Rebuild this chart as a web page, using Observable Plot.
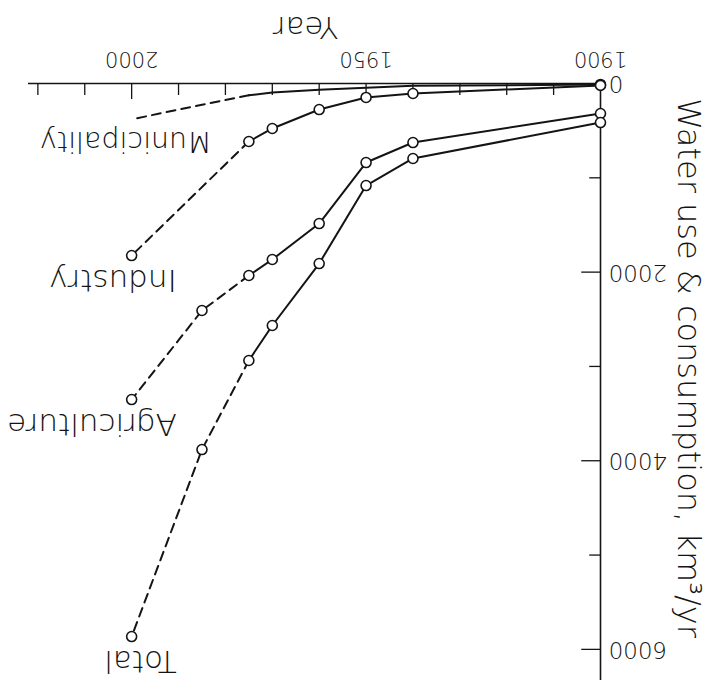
<!DOCTYPE html>
<html><head><meta charset="utf-8">
<script src="https://cdn.jsdelivr.net/npm/d3@7"></script>
<script src="https://cdn.jsdelivr.net/npm/@observablehq/plot@0.6"></script>
<style>body{margin:0;background:#fff} svg{display:block}</style>
</head><body><div id="chart"></div>
<script>
// ---- data ----
const seriesNames = ["Municipality", "Industry", "Agriculture", "Total"];
const municipalityYears = [1900, 1940, 1950, 1960, 1970, 1975, 1985, 2000];
const municipality      = [10, 25, 45, 65, 95, 125, 225, 380];
const industryYears     = [1900, 1940, 1950, 1960, 1970, 1975, 2000];
const industry          = [20, 106, 148, 276, 477, 615, 1824];
const agricultureYears  = [1900, 1940, 1950, 1960, 1970, 1975, 1985, 2000];
const agriculture       = [318, 626, 838, 1485, 1866, 2036, 2407, 3351];
const totalYears        = [1900, 1940, 1950, 1960, 1970, 1975, 1985, 2000];
const total             = [414, 795, 1082, 1909, 2566, 2937, 3881, 5864];
const projectionStart = 1975;

const xTickValues = [1910, 1920, 1930, 1940, 1950, 1960, 1970, 1980, 1990, 2000, 2010, 2020];
const xTickLabels = [1900, 1950, 2000];
const yTickValues = [1000, 2000, 3000, 4000, 5000, 6000];
const yTickLabels = [0, 2000, 4000, 6000];
const xTitle = "Year";
const yTitle = "Water use & consumption, km³/yr";

// ---- build table ----
const seriesTable = [
  {name: "Municipality", years: municipalityYears, values: municipality, markers: false},
  {name: "Industry", years: industryYears, values: industry, markers: true},
  {name: "Agriculture", years: agricultureYears, values: agriculture, markers: true},
  {name: "Total", years: totalYears, values: total, markers: true}
];
const rows = seriesTable.flatMap(s => s.years.map((year, i) => ({series: s.name, year, value: s.values[i], marker: s.markers || year === 1900})));
const ends = seriesTable.map(s => ({series: s.name, year: s.years[s.years.length - 1], value: s.values[s.values.length - 1]}));

const ink = "#141414";
const font = "DejaVu Sans";

const chart = Plot.plot({
  width: 713,
  height: 691,
  marginLeft: 28,
  marginRight: 113,
  marginTop: 83,
  marginBottom: 11,
  x: {domain: [1900, 2022], reverse: true, axis: null},
  y: {domain: [0, 6330], reverse: true, axis: null},
  style: {fontFamily: font, background: "#fff", color: ink},
  marks: [
    Plot.ruleY([0], {stroke: ink, strokeWidth: 1.6}),
    Plot.ruleX([1900], {stroke: ink, strokeWidth: 1.6}),
    Plot.ruleX(xTickValues, {x: d => d, y1: 0, y2: d => d % 50 === 0 ? 170 : 127, stroke: ink, strokeWidth: 1.3}),
    Plot.ruleY(yTickValues, {y: d => d, x1: 1900, x2: d => d % 2000 === 0 ? 1904 : 1902.3, stroke: ink, strokeWidth: 1.3}),
    Plot.text(xTickLabels, {x: d => d, frameAnchor: "top", lineAnchor: "middle", textAnchor: "middle", dy: -25, text: d => String(d), rotate: 180, fontSize: 21, fontWeight: 200, fill: ink}),
    Plot.text(yTickLabels, {y: d => d, frameAnchor: "right", lineAnchor: "middle", dx: 8, text: d => String(d), rotate: 180, textAnchor: "end", fontSize: 23, fontWeight: 200, fill: ink}),
    Plot.text([xTitle], {frameAnchor: "top", lineAnchor: "middle", textAnchor: "middle", dx: -9, dy: -57, text: d => d, rotate: 180, fontSize: 31, fontWeight: 200, fill: ink}),
    Plot.text([yTitle], {frameAnchor: "right", lineAnchor: "middle", textAnchor: "middle", dx: 88, dy: -14, text: d => d, rotate: 90, fontSize: 32, fontWeight: 200, fill: ink}),
    Plot.line(rows.filter(d => d.year <= projectionStart), {x: "year", y: "value", z: "series", stroke: ink, strokeWidth: 2}),
    Plot.line(rows.filter(d => d.year >= projectionStart), {x: "year", y: "value", z: "series", stroke: ink, strokeWidth: 2, strokeDasharray: "9,6"}),
    Plot.dot(rows.filter(d => d.marker), {x: "year", y: "value", r: 5, fill: "#fff", stroke: ink, strokeWidth: 1.6}),
    Plot.text(ends.filter(d => d.series !== "Municipality"), {x: "year", y: "value", text: "series", rotate: 180, textAnchor: "start", lineAnchor: "middle", dx: 45, dy: 24, fontSize: 31, fontWeight: 200, fill: ink}),
    Plot.text(ends.filter(d => d.series === "Municipality"), {x: "year", y: "value", text: "series", rotate: 180, textAnchor: "start", lineAnchor: "middle", dx: 80, dy: 22, fontSize: 28.5, fontWeight: 200, fill: ink})
  ]
});
document.getElementById("chart").appendChild(chart);
</script>
</body></html>
